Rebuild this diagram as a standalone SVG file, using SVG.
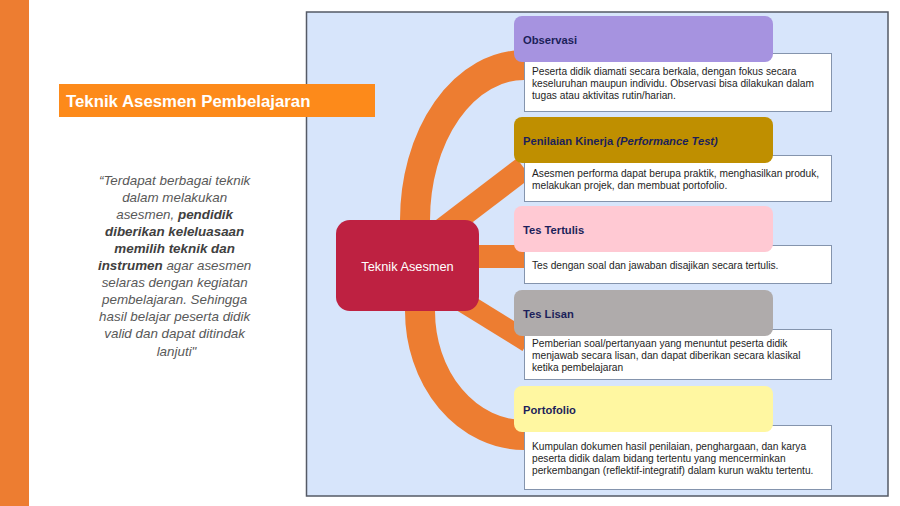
<svg xmlns="http://www.w3.org/2000/svg" width="900" height="506" viewBox="0 0 900 506">
<defs>
<style>
.hdr{stroke:none}
.hdrtxt{font-family:"Liberation Sans",Arial,sans-serif;font-size:11.2px;font-weight:bold;fill:#1c1f5a}
.body{fill:#ffffff;stroke:#8494ad;stroke-width:1}
.bodytxt{font-family:"Liberation Sans",Arial,sans-serif;font-size:10.2px;fill:#1e1e1e}
.conn{fill:none;stroke:#ed7d31}
.quote{font-family:"Liberation Sans",Arial,sans-serif;font-size:13.4px;font-style:italic;fill:#595959}
</style>
</defs>
<rect width="900" height="506" fill="#ffffff"/>
<rect x="0" y="0" width="29" height="506" fill="#ed7d31"/>
<rect id="panel" x="306.5" y="12" width="581.5" height="484" fill="#d7e5fb" stroke="#545a66" stroke-width="1.5"/>

<g id="title">
<rect x="59" y="84" width="316" height="33" fill="#fd8a1a"/>
<text x="66" y="106.5" font-family="'Liberation Sans',Arial,sans-serif" font-size="16.8" font-weight="bold" fill="#ffffff">Teknik Asesmen Pembelajaran</text>
</g>

<g id="quote">
<text class="quote" text-anchor="middle">
<tspan x="176.5" y="184.5">“Terdapat berbagai teknik</tspan>
<tspan x="176.5" y="201.6">dalam melakukan</tspan>
<tspan x="176.5" y="218.7">asesmen, <tspan font-weight="bold" fill="#404040">pendidik</tspan></tspan>
<tspan x="176.5" y="235.8" font-weight="bold" fill="#404040">diberikan keleluasaan</tspan>
<tspan x="176.5" y="252.9" font-weight="bold" fill="#404040">memilih teknik dan</tspan>
<tspan x="176.5" y="270"><tspan font-weight="bold" fill="#404040">instrumen</tspan> agar asesmen</tspan>
<tspan x="176.5" y="287.1">selaras dengan kegiatan</tspan>
<tspan x="176.5" y="304.2">pembelajaran. Sehingga</tspan>
<tspan x="176.5" y="321.3">hasil belajar peserta didik</tspan>
<tspan x="176.5" y="338.4">valid dan dapat ditindak</tspan>
<tspan x="176.5" y="355.5">lanjuti"</tspan>
</text>
</g>

<g id="connectors">
<path class="conn" stroke-width="30" d="M415 245 L415 220 A109 155 0 0 1 524 65 L530 65"/>
<path class="conn" stroke-width="24" d="M440 232 L524 168"/>
<path class="conn" stroke-width="23" d="M470 256.5 L530 256.5"/>
<path class="conn" stroke-width="21" d="M460 300 L528 342"/>
<path class="conn" stroke-width="30" d="M420 290 L420 311 A104 124 0 0 0 524 435 L530 435"/>
</g>

<g id="center">
<rect x="336" y="220" width="143" height="91" rx="14" fill="#be2141"/>
<text x="407.5" y="270.5" text-anchor="middle" font-family="'Liberation Sans',Arial,sans-serif" font-size="12.8" fill="#ffffff">Teknik Asesmen</text>
</g>

<g id="observasi">
<rect class="body" x="524.5" y="53.5" width="307" height="58"/>
<rect class="hdr" x="514" y="16" width="259" height="46" rx="8" fill="#a693e0"/>
<text class="hdrtxt" x="523" y="44">Observasi</text>
<text class="bodytxt"><tspan x="532" y="74.5">Peserta didik diamati secara berkala, dengan fokus secara</tspan><tspan x="532" y="86.7">keseluruhan maupun individu. Observasi bisa dilakukan dalam</tspan><tspan x="532" y="98.9">tugas atau aktivitas rutin/harian.</tspan></text>
</g>

<g id="kinerja">
<rect class="body" x="524.5" y="155.5" width="307" height="46"/>
<rect class="hdr" x="514" y="117" width="259" height="46" rx="8" fill="#bf8f00"/>
<text class="hdrtxt" x="523" y="145">Penilaian Kinerja <tspan font-style="italic">(Performance Test)</tspan></text>
<text class="bodytxt"><tspan x="532" y="176.5">Asesmen performa dapat berupa praktik, menghasilkan produk,</tspan><tspan x="532" y="188.7">melakukan projek, dan membuat portofolio.</tspan></text>
</g>

<g id="tertulis">
<rect class="body" x="524.5" y="245.5" width="307" height="38"/>
<rect class="hdr" x="514" y="206" width="259" height="46" rx="8" fill="#ffc9d3"/>
<text class="hdrtxt" x="523" y="234">Tes Tertulis</text>
<text class="bodytxt"><tspan x="532" y="268.5">Tes dengan soal dan jawaban disajikan secara tertulis.</tspan></text>
</g>

<g id="lisan">
<rect class="body" x="524.5" y="329.5" width="307" height="50"/>
<rect class="hdr" x="514" y="290" width="259" height="46" rx="8" fill="#afabab"/>
<text class="hdrtxt" x="523" y="318">Tes Lisan</text>
<text class="bodytxt"><tspan x="532" y="346.5">Pemberian soal/pertanyaan yang menuntut peserta didik</tspan><tspan x="532" y="358.7">menjawab secara lisan, dan dapat diberikan secara klasikal</tspan><tspan x="532" y="370.9">ketika pembelajaran</tspan></text>
</g>

<g id="portofolio">
<rect class="body" x="524.5" y="425.5" width="307" height="64"/>
<rect class="hdr" x="514" y="386" width="259" height="46" rx="8" fill="#fff7a1"/>
<text class="hdrtxt" x="523" y="414">Portofolio</text>
<text class="bodytxt"><tspan x="532" y="449.5">Kumpulan dokumen hasil penilaian, penghargaan, dan karya</tspan><tspan x="532" y="461.7">peserta didik dalam bidang tertentu yang mencerminkan</tspan><tspan x="532" y="473.9">perkembangan (reflektif-integratif) dalam kurun waktu tertentu.</tspan></text>
</g>
</svg>
